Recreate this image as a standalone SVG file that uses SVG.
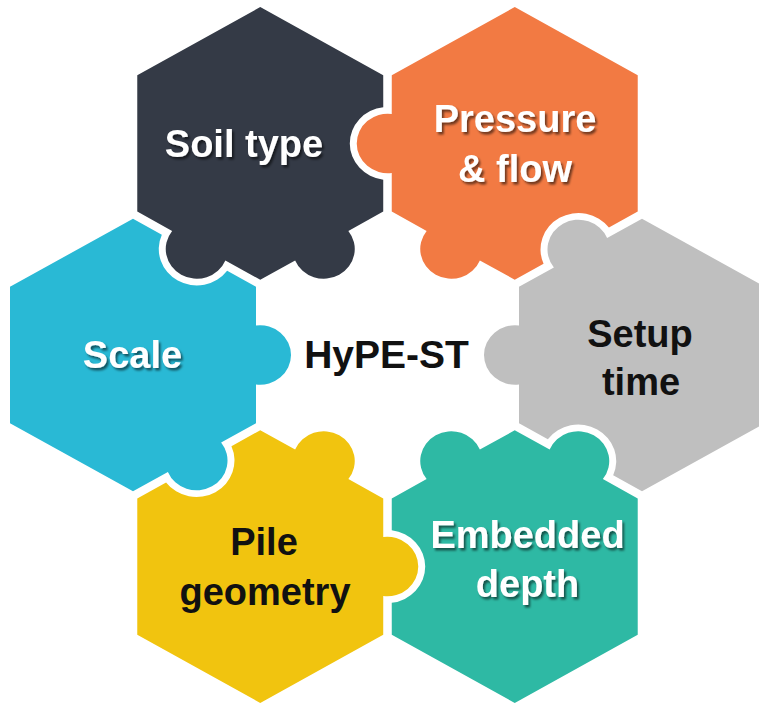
<svg xmlns="http://www.w3.org/2000/svg" xmlns:xlink="http://www.w3.org/1999/xlink" width="759" height="705" viewBox="0 0 759 705">
<style>
.lbl{font-family:"Liberation Sans",Arial,sans-serif;font-weight:bold;font-size:38px;text-anchor:middle}
.w{fill:#ffffff;filter:url(#ts)}
.k{fill:#111111}
.soil{fill:#343a46}
.press{fill:#f27a43}
.setup{fill:#bfbfbf}
.emb{fill:#2eb9a4}
.pile{fill:#f1c40f}
.scale{fill:#29b9d5}
</style>
<defs>
<filter id="ts" x="-10%" y="-20%" width="130%" height="150%">
<feDropShadow dx="2" dy="2.5" stdDeviation="1.2" flood-color="#000" flood-opacity="0.55"/>
</filter>
<path id="piece" d="M0,-142 L123,-71 L123,71 L0,142 L-28.83,125.39 A38,38 0 0 0 -94.17,87.65 L-123,71 L-123,30.74 A31,31 0 1 1 -123,-30.74 L-123,-71 L-88.12,-91.15 A31,31 0 1 1 -34.88,-121.89 Z"/>
</defs>
<rect width="759" height="705" fill="#ffffff"/>
<g id="connectors"></g>
<g id="soil-type">
<use xlink:href="#piece" href="#piece" class="soil" transform="matrix(1 0 0 0.96 0 14.2) translate(260.25 134.59) rotate(240)"/>
<text class="lbl w" x="244" y="157">Soil type</text>
</g>
<g id="pressure-flow">
<use xlink:href="#piece" href="#piece" class="press" transform="matrix(1 0 0 0.96 0 14.2) translate(514.75 134.59) rotate(300)"/>
<text class="lbl w" x="515" y="132">Pressure</text>
<text class="lbl w" x="515" y="182">&amp; flow</text>
</g>
<g id="setup-time">
<use xlink:href="#piece" href="#piece" class="setup" transform="matrix(1 0 0 0.96 0 14.2) translate(642 355) rotate(0)"/>
<text class="lbl k" x="640" y="347">Setup</text>
<text class="lbl k" x="641" y="395">time</text>
</g>
<g id="embedded-depth">
<use xlink:href="#piece" href="#piece" class="emb" transform="matrix(1 0 0 0.96 0 14.2) translate(514.75 575.41) rotate(60)"/>
<text class="lbl w" x="527.5" y="548">Embedded</text>
<text class="lbl w" x="527.5" y="597">depth</text>
</g>
<g id="pile-geometry">
<use xlink:href="#piece" href="#piece" class="pile" transform="matrix(1 0 0 0.96 0 14.2) translate(260.25 575.41) rotate(120)"/>
<text class="lbl k" x="264" y="555">Pile</text>
<text class="lbl k" x="265" y="605">geometry</text>
</g>
<g id="scale">
<use xlink:href="#piece" href="#piece" class="scale" transform="matrix(1 0 0 0.96 0 14.2) translate(133 355) rotate(180)"/>
<text class="lbl w" x="132.5" y="368">Scale</text>
</g>
<g id="hype-st">
<text class="lbl k" x="386.5" y="368" style="font-size:39px">HyPE-ST</text>
</g>
</svg>
